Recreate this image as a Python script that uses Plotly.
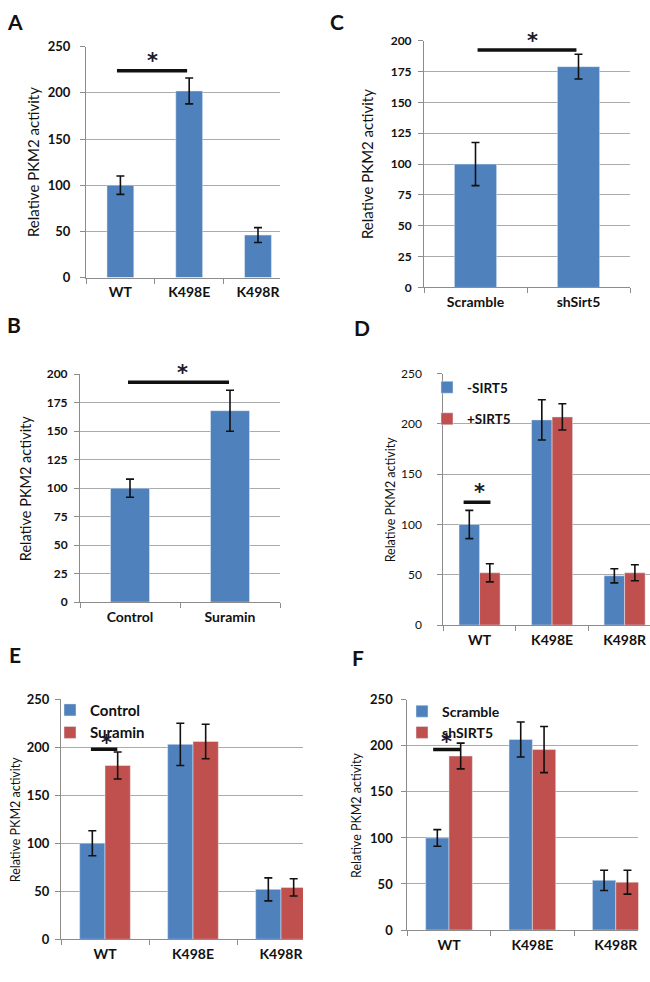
import plotly.graph_objects as go

W, H = 650, 982
BLUE = "#4F81BD"
RED = "#C0504D"
GRID = "#ABABAB"
AXIS = "#8C8C8C"
FONT = "Lato"

# ---------------- data ----------------
cats3 = ["WT", "K498E", "K498R"]

# Panel A
a_vals = [100, 202, 46]
a_err = [10, 14, 8]

# Panel B
b_cats = ["Control", "Suramin"]
b_vals = [100, 168]
b_err = [8, 18]

# Panel C
c_cats = ["Scramble", "shSirt5"]
c_vals = [100, 179]
c_err = [17.5, 10]

# Panel D
d_names = ["-SIRT5", "+SIRT5"]
d_minus = [100, 204, 49]
d_minus_err = [14, 20, 7]
d_plus = [52, 207, 52]
d_plus_err = [9, 13, 8]

# Panel E
e_names = ["Control", "Suramin"]
e_ctrl = [100, 203, 52]
e_ctrl_err = [13, 22, 12]
e_sur = [181, 206, 54]
e_sur_err = [14, 18, 9]

# Panel F
f_names = ["Scramble", "shSIRT5"]
f_scr = [100, 207, 54]
f_scr_err = [9, 19, 11]
f_sh = [189, 196, 52]
f_sh_err = [14, 25, 13]

# significance brackets: (x0, x1, y) in category/value units
sig = {
    "A": (-0.05, 0.97, 224),
    "B": (-0.02, 0.99, 193),
    "C": (0.02, 0.98, 192.5),
    "D": (-0.22, 0.15, 122),
    "E": (-0.16, 0.14, 198),
    "F": (-0.19, 0.14, 196),
}
# asterisk positions (x, y) in category/value units + pixel shift
star = {
    "A": (0.47, 224, 10),
    "B": (0.52, 193, 9),
    "C": (0.55, 192.5, 9),
    "D": (0.0, 122, 10),
    "E": (0.02, 198, 6),
    "F": (-0.03, 196, 8),
}

# ---------------- layout geometry (pixels) ----------------
panels = {
    "A": dict(ax="", x0=86, x1=280, yt=39.3, yb=274, ymax=250, dt=50, xr=2.32, tb=True, ts=13, tts=15, tx=33, lx=15, ly=14, so=7),
    "C": dict(ax="2", x0=424, x1=630, yt=33.3, yb=284, ymax=200, dt=25, xr=1.5, tb=True, ts=12, tts=15, tx=367, lx=337, ly=14, so=4),
    "B": dict(ax="3", x0=80, x1=280, yt=372.3, yb=604, ymax=200, dt=25, xr=1.5, tb=True, ts=12, tts=14.5, tx=25, lx=14, ly=322, so=4),
    "D": dict(ax="4", x0=443.3, x1=650, yt=371.7, yb=627.3, ymax=250, dt=50, xr=2.35, tb=False, ts=12, tts=12.5, tx=390, lx=362, ly=325, so=13),
    "E": dict(ax="5", x0=61, x1=303, yt=702.7, yb=946.7, ymax=250, dt=50, xr=2.25, tb=True, ts=13, tts=12.5, tx=15, lx=15, ly=657, so=3),
    "F": dict(ax="6", x0=407.3, x1=638.3, yt=703.3, yb=937.3, ymax=250, dt=50, xr=2.27, tb=True, ts=13, tts=12.5, tx=357, lx=358, ly=660, so=6),
}

fig = go.Figure()


def errbar(arr):
    return dict(type="data", array=arr, visible=True, color="#111111", thickness=1.6, width=4)


def add_single(key, cats, vals, errs, width):
    p = panels[key]
    fig.add_trace(go.Bar(x=cats, y=vals, error_y=errbar(errs), marker_color=BLUE,
                         width=width, showlegend=False,
                         xaxis="x" + p["ax"], yaxis="y" + p["ax"]))


def add_pair(key, names, v1, e1, v2, e2, width, legend):
    p = panels[key]
    for nm, v, e, col, off in [(names[0], v1, e1, BLUE, -width), (names[1], v2, e2, RED, 0)]:
        fig.add_trace(go.Bar(x=cats3, y=v, name=nm, error_y=errbar(e), marker_color=col,
                             width=width, offset=off, legend=legend, legendgroup=key + nm,
                             xaxis="x" + p["ax"], yaxis="y" + p["ax"]))


add_single("A", cats3, a_vals, a_err, 0.39)
add_single("C", c_cats, c_vals, c_err, 0.41)
add_single("B", b_cats, b_vals, b_err, 0.39)
add_pair("D", d_names, d_minus, d_minus_err, d_plus, d_plus_err, 0.283, "legend")
add_pair("E", e_names, e_ctrl, e_ctrl_err, e_sur, e_sur_err, 0.288, "legend2")
add_pair("F", f_names, f_scr, f_scr_err, f_sh, f_sh_err, 0.28, "legend3")

layout = dict(
    width=W, height=H, margin=dict(l=0, r=0, t=0, b=0),
    paper_bgcolor="white", plot_bgcolor="white",
    barmode="overlay", font=dict(family=FONT, color="#111111"),
    shapes=[], annotations=[],
)

for key, p in panels.items():
    xa = "xaxis" + p["ax"]
    ya = "yaxis" + p["ax"]
    layout[xa] = dict(
        domain=[p["x0"] / W, p["x1"] / W], anchor="y" + p["ax"], type="category",
        range=[-0.5, p["xr"]], showline=True, linecolor=AXIS, linewidth=1,
        ticks="outside", ticklen=5, tickcolor=AXIS, tickson="boundaries",
        ticklabelstandoff=2,
        showgrid=False, zeroline=False, fixedrange=True,
        tickfont=dict(family=FONT, size=14, color="#111111", weight="bold"),
    )
    layout[ya] = dict(
        domain=[1 - p["yb"] / H, 1 - p["yt"] / H], anchor="x" + p["ax"],
        range=[0, p["ymax"]], dtick=p["dt"], tick0=0,
        showline=True, linecolor=AXIS, linewidth=1,
        ticks="outside", ticklen=5, tickcolor=AXIS, ticklabelstandoff=p["so"],
        showgrid=True, gridcolor=GRID, gridwidth=1, zeroline=False, fixedrange=True,
        tickfont=dict(family=FONT, size=p["ts"], color="#111111",
                      weight="bold" if p["tb"] else "normal"),
    )
    layout["annotations"].append(dict(
        text="Relative PKM2 activity", xref="paper", yref="paper",
        x=p["tx"] / W, y=1 - (p["yt"] + p["yb"]) / 2 / H, textangle=-90,
        showarrow=False, xanchor="center", yanchor="middle",
        font=dict(family=FONT, size=p["tts"], color="#111111")))
    layout["annotations"].append(dict(
        text="<b>%s</b>" % key, xref="paper", yref="paper",
        x=p["lx"] / W, y=1 - p["ly"] / H, showarrow=False,
        xanchor="center", yanchor="middle",
        font=dict(family=FONT, size=21, color="#111111")))
    x0, x1, yv = sig[key]
    layout["shapes"].append(dict(
        type="line", xref="x" + p["ax"], yref="y" + p["ax"],
        x0=x0, x1=x1, y0=yv, y1=yv, line=dict(color="#111111", width=3.5)))
    sx, sy, sh = star[key]
    layout["annotations"].append(dict(
        text="<b>*</b>", xref="x" + p["ax"], yref="y" + p["ax"], x=sx, y=sy,
        showarrow=False, xanchor="center", yanchor="middle", yshift=sh,
        font=dict(family="DejaVu Sans", size=21, color="#1a1a2e")))

leg_common = dict(bgcolor="rgba(0,0,0,0)", xanchor="left", yanchor="top",
                  itemclick=False, itemdoubleclick=False)
layout["legend"] = dict(x=427 / W, y=1 - 370 / H, tracegroupgap=11,
                        font=dict(family=FONT, size=13.5, color="#111111", weight="bold"),
                        **leg_common)
layout["legend2"] = dict(x=50 / W, y=1 - 697 / H, tracegroupgap=0,
                         font=dict(family=FONT, size=15, color="#111111", weight="bold"),
                         **leg_common)
layout["legend3"] = dict(x=402 / W, y=1 - 699 / H, tracegroupgap=0,
                         font=dict(family=FONT, size=14, color="#111111", weight="bold"),
                         **leg_common)

fig.update_layout(**layout)
fig.write_html("out.html", config={"displayModeBar": False},
               post_script="document.body.style.margin='0px';")
